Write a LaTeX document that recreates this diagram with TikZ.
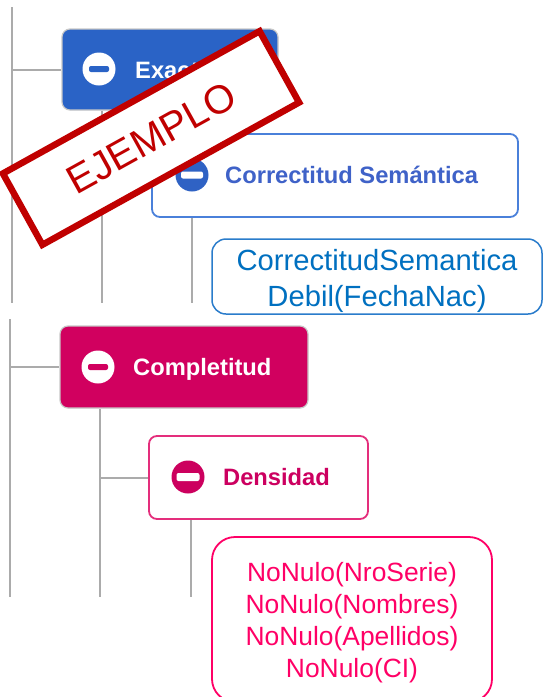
\documentclass[tikz,border=0pt]{standalone}
\usepackage{fontspec}
\setmainfont{Liberation Sans}
\definecolor{exblue}{HTML}{2A63C6}
\definecolor{csblue}{HTML}{3F62C8}
\definecolor{csborder}{HTML}{4A80DA}
\definecolor{csicon}{HTML}{2F62C4}
\definecolor{ruleblue}{HTML}{0070C0}
\definecolor{ruleborder}{HTML}{2A7CCB}
\definecolor{compmag}{HTML}{D1005F}
\definecolor{densborder}{HTML}{E42E7C}
\definecolor{denstext}{HTML}{CC0060}
\definecolor{densicon}{HTML}{CC005E}
\definecolor{nnpink}{HTML}{FF0066}
\definecolor{stampred}{HTML}{C00000}
\definecolor{treegray}{HTML}{ABABAB}
\begin{document}
\begin{tikzpicture}[x=1pt,y=-1pt,
  tree/.style={draw=treegray, line width=2pt},
  catbox/.style={rectangle, rounded corners=8pt, inner sep=0pt, draw=black!22, line width=1.2pt},
  subbox/.style={rectangle, rounded corners=8pt, inner sep=0pt, fill=white, line width=1.8pt},
  rulebox/.style={rectangle, inner sep=0pt, fill=white},
  ruletext/.style={align=center, inner sep=0pt},
  iconcircle/.style={circle, inner sep=0pt, minimum size=33pt},
  iconbar/.style={rectangle, rounded corners=2pt, inner sep=0pt, minimum width=20pt, minimum height=6pt},
  cattext/.style={anchor=base west, inner sep=0pt, font=\fontsize{23.7}{28}\selectfont\bfseries},
  stampbox/.style={draw=stampred, line width=6.5pt, fill=white, inner sep=0pt, text=stampred, font=\fontsize{40}{48}\selectfont}
]
\useasboundingbox (0,0) rectangle (543,697);
\clip (0,0) rectangle (543,697);

% ---------- top part ----------
\node[catbox, fill=exblue, minimum width=216pt, minimum height=81pt] (exact) at (170,69.5) {};
\node[iconcircle, fill=white] (exicon) at (99,69) {};
\node[iconbar, fill=exblue] (exbar) at (exicon) {};
\node[cattext, text=white] (extext) at (135,78) {Exactitud};

\node[subbox, draw=csborder, minimum width=366pt, minimum height=83pt] (corr) at (335,175.5) {};
\node[iconcircle, fill=csicon] (csicon) at (192,175) {};
\node[iconbar, fill=white, minimum width=22pt, minimum height=7pt] (csbar) at (csicon) {};
\node[cattext, text=csblue] (cstext) at (225,183.5) {Correctitud Semántica};

\node[rulebox, draw=ruleborder, line width=1.5pt, rounded corners=14pt, minimum width=330pt, minimum height=75pt] (rule1) at (377,276.5) {};
\node[ruletext, text=ruleblue, font=\fontsize{29.2}{36}\selectfont, yshift=-4.4pt] (rule1text) at (rule1.center) {CorrectitudSemantica\\Debil(FechaNac)};

\coordinate (rootTop) at (12,7);
\coordinate (rootBot) at (12,303);
\coordinate (exBot) at (102,303);
\coordinate (csBot) at (192,303);
\draw[tree] (rootTop) -- (rootBot);
\draw[tree] (rootTop |- exact.west) -- (exact.west);
\draw[tree] (exBot |- exact.south) -- (exBot);
\draw[tree] (exBot |- corr.west) -- (corr.west);
\draw[tree] (csBot |- corr.south) -- (csBot);

% ---------- bottom part ----------
\node[catbox, fill=compmag, minimum width=248pt, minimum height=82pt] (comp) at (184,367) {};
\node[iconcircle, fill=white] (compicon) at (98,367) {};
\node[iconbar, fill=compmag] (compbar) at (compicon) {};
\node[cattext, text=white] (comptext) at (133,375) {Completitud};

\node[subbox, draw=densborder, minimum width=219pt, minimum height=83pt] (dens) at (258.5,477.5) {};
\node[iconcircle, fill=densicon] (densicon) at (188,477) {};
\node[iconbar, fill=white, minimum width=23pt, minimum height=8pt] (densbar) at (densicon) {};
\node[cattext, text=denstext] (denstext) at (223,485) {Densidad};

\node[rulebox, draw=nnpink, line width=1.8pt, rounded corners=23pt, minimum width=280pt, minimum height=165pt] (rule2) at (352,619.5) {};
\node[ruletext, text=nnpink, font=\fontsize{26.4}{32}\selectfont, yshift=-3pt] (rule2text) at (rule2.center) {NoNulo(NroSerie)\\NoNulo(Nombres)\\NoNulo(Apellidos)\\NoNulo(CI)};

\coordinate (root2Top) at (10,319);
\coordinate (root2Bot) at (10,597);
\coordinate (compBot) at (100,597);
\coordinate (densBot) at (191,597);
\draw[tree] (root2Top) -- (root2Bot);
\draw[tree] (root2Top |- comp.west) -- (comp.west);
\draw[tree] (compBot |- comp.south) -- (compBot);
\draw[tree] (compBot |- dens.west) -- (dens.west);
\draw[tree] (densBot |- dens.south) -- (densBot);

% ---------- stamp ----------
\node[stampbox, rotate=29, minimum width=293.5pt, minimum height=81.5pt] (stamp) at (151,138) {EJEMPLO};
\end{tikzpicture}
\end{document}
